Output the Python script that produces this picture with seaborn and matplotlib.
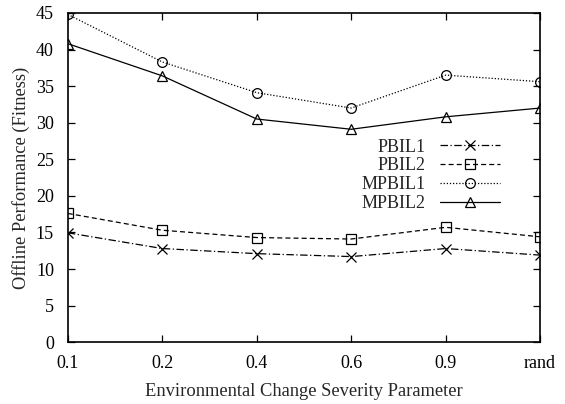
import matplotlib
matplotlib.use("Agg")
import matplotlib.pyplot as plt
import seaborn as sns
import pandas as pd

categories = ["0.1", "0.2", "0.4", "0.6", "0.9", "rand"]
pbil1 = [14.95, 12.8, 12.1, 11.7, 12.8, 11.9]
pbil2 = [17.6, 15.3, 14.3, 14.1, 15.7, 14.4]
mpbil1 = [44.8, 38.3, 34.1, 32.0, 36.5, 35.6]
mpbil2 = [40.8, 36.4, 30.5, 29.1, 30.8, 32.0]

series = {"PBIL1": pbil1, "PBIL2": pbil2, "MPBIL1": mpbil1, "MPBIL2": mpbil2}
styles = {
    "PBIL1": dict(marker="x", dashes=(6, 2, 1, 2)),
    "PBIL2": dict(marker="s", dashes=(4, 2.5)),
    "MPBIL1": dict(marker="o", dashes=(1, 1.5)),
    "MPBIL2": dict(marker="^", dashes=""),
}

sns.set_theme(style="ticks")
plt.rcParams["font.family"] = ["Liberation Serif", "DejaVu Serif"]

fig = plt.figure(figsize=(5.65, 4.04), dpi=100)
ax = fig.add_axes([0.120, 0.153, 0.836, 0.815])

xpos = list(range(len(categories)))
for name, vals in series.items():
    df = pd.DataFrame({"x": xpos, "y": vals})
    st = styles[name]
    kw = {}
    if st["dashes"]:
        kw["dashes"] = st["dashes"]
    sns.lineplot(data=df, x="x", y="y", ax=ax, color="black", lw=0.9,
                 marker=st["marker"], markersize=7,
                 markerfacecolor="none", markeredgecolor="black",
                 markeredgewidth=0.9, label=name, sort=False, **kw)

ax.set_xlim(0, len(categories) - 1)
ax.set_ylim(0, 45)
ax.set_xticks(xpos)
ax.set_xticklabels(categories)
ax.set_yticks(range(0, 46, 5))
ax.tick_params(direction="in", top=True, right=True, length=5, width=0.9,
               labelsize=13, colors="black")
ax.tick_params(axis="x", pad=9)
ax.tick_params(axis="y", pad=10)
for s in ax.spines.values():
    s.set_linewidth(1.2)
    s.set_color("black")
ax.set_xlabel("Environmental Change Severity Parameter", fontsize=13.3, labelpad=8)
ax.set_ylabel("Offline Performance (Fitness)", fontsize=13.3, labelpad=4)

ax.legend(loc="upper right", bbox_to_anchor=(0.93, 0.64), frameon=False,
          markerfirst=False, fontsize=13, handlelength=3.3, handletextpad=0.8,
          labelspacing=0.1, borderaxespad=0)

fig.savefig("out.png", dpi=100)
